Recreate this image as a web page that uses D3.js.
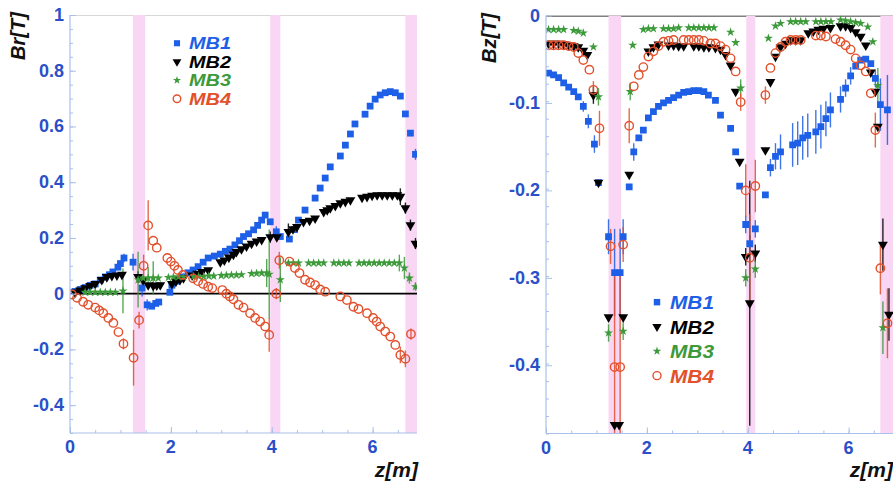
<!DOCTYPE html>
<html><head><meta charset="utf-8">
<script src="https://cdn.jsdelivr.net/npm/d3@7"></script>
<style>body{margin:0;background:#fff}svg{display:block}
.sf{font-family:"Liberation Sans",Arial,"DejaVu Sans",sans-serif;font-weight:bold}
.it{font-style:italic}</style>
</head><body><svg id="c" width="893" height="487"></svg>
<script>
// ---------- DATA: [z, value, error] ----------
const seriesNames = ["MB1","MB2","MB3","MB4"];
const xTicks = [0,2,4,6];
const brTicks = [1,0.8,0.6,0.4,0.2,0,-0.2,-0.4];
const bzTicks = [0,-0.1,-0.2,-0.3,-0.4];
const brBands = [[1.25,1.49],[3.97,4.17],[6.65,6.9]];
const bzBands = [[1.24,1.49],[3.97,4.15],[6.63,6.95]];

const brMB1 = [[0.10,0.008,0],[0.20,0.015,0],[0.30,0.022,0],[0.40,0.030,0],[0.50,0.035,0],[0.60,0.049,0],[0.70,0.060,0],[0.78,0.068,0],[0.85,0.078,0],[0.95,0.095,0],[1.00,0.108,0],[1.07,0.128,0.015],
[1.25,0.113,0.03],[1.43,0.020,0.03],[1.53,-0.040,0.02],[1.62,-0.045,0],[1.70,-0.035,0],[1.76,-0.030,0],
[1.98,0.005,0],[2.02,0.030,0],[2.12,0.045,0],[2.22,0.060,0],[2.34,0.075,0],[2.44,0.085,0],[2.54,0.097,0],[2.64,0.113,0],[2.74,0.128,0],[2.86,0.135,0],[2.98,0.142,0],[3.08,0.152,0],[3.17,0.160,0],[3.27,0.175,0],[3.36,0.190,0],[3.44,0.205,0],[3.54,0.215,0],[3.64,0.229,0],[3.72,0.245,0],[3.80,0.264,0],[3.87,0.282,0],[3.97,0.258,0],[4.09,0.222,0.02],[4.17,0.205,0],
[4.35,0.196,0],[4.45,0.230,0],[4.53,0.264,0],[4.66,0.300,0],[4.86,0.343,0],[4.96,0.379,0],[5.06,0.415,0],[5.16,0.455,0],[5.36,0.494,0],[5.46,0.533,0],[5.56,0.573,0],[5.65,0.609,0],[5.85,0.644,0],[5.95,0.673,0],[6.05,0.698,0],[6.15,0.713,0],[6.25,0.721,0],[6.35,0.725,0],[6.45,0.721,0],[6.55,0.709,0],[6.65,0.645,0],[6.75,0.576,0],[6.85,0.500,0.02]];

const brMB2 = [[0.10,0.005,0],[0.20,0.012,0],[0.30,0.020,0],[0.40,0.028,0],[0.50,0.035,0],[0.63,0.050,0],[0.73,0.060,0],[0.83,0.064,0],[0.93,0.066,0],[1.03,0.068,0],
[1.35,0.060,0.02],[1.45,0.049,0],[1.55,0.031,0],[1.65,0.028,0],[1.72,0.030,0],[1.79,0.031,0],
[2.02,0.035,0],[2.10,0.043,0],[2.18,0.050,0],[2.25,0.056,0],[2.42,0.066,0],[2.52,0.072,0],[2.62,0.078,0],[2.74,0.085,0],[2.98,0.113,0],[3.06,0.120,0],[3.15,0.130,0],[3.24,0.140,0],[3.30,0.150,0],[3.40,0.160,0],[3.50,0.170,0],[3.60,0.180,0],[3.70,0.188,0],[3.80,0.193,0],[3.97,0.203,0.02],[4.10,0.203,0],
[4.33,0.222,0.03],[4.42,0.232,0],[4.50,0.240,0],[4.63,0.258,0],[4.75,0.262,0],[4.86,0.270,0],[5.03,0.294,0],[5.10,0.300,0],[5.16,0.307,0],[5.26,0.315,0],[5.36,0.325,0],[5.46,0.330,0],[5.56,0.336,0],[5.79,0.345,0],[5.89,0.348,0],[5.99,0.352,0],[6.09,0.354,0],[6.19,0.354,0],[6.29,0.354,0],[6.39,0.354,0],[6.49,0.354,0],[6.55,0.348,0.03],[6.65,0.307,0.02],[6.75,0.246,0.02],[6.85,0.180,0.02]];

const brMB3 = [[0.30,0.005,0],[0.40,0.005,0],[0.50,0.005,0],[0.60,0.005,0],[0.70,0.005,0],[0.80,0.005,0],[0.90,0.005,0],[1.05,0.010,0.08],
[1.35,0.050,0.10],[1.45,0.056,0],[1.55,0.056,0.04],[1.65,0.056,0.06],[1.75,0.056,0],
[1.95,0.058,0],[2.05,0.060,0],[2.15,0.060,0],[2.25,0.060,0],[2.45,0.062,0],[2.55,0.062,0],[2.65,0.062,0],[2.75,0.063,0],[2.85,0.063,0],[3.00,0.065,0],[3.10,0.066,0],[3.20,0.067,0],[3.30,0.067,0],[3.40,0.068,0],[3.60,0.072,0],[3.70,0.073,0],[3.80,0.074,0],[3.90,0.074,0.05],
[3.95,0.070,0.16],[4.17,0.050,0.08],
[4.33,0.110,0],[4.43,0.110,0],[4.53,0.110,0],[4.73,0.110,0],[4.83,0.110,0],[4.93,0.110,0],[5.03,0.110,0],[5.23,0.110,0],[5.33,0.110,0],[5.43,0.110,0],[5.53,0.110,0],[5.73,0.110,0],[5.83,0.110,0],[5.93,0.110,0],[6.03,0.110,0],[6.13,0.110,0],[6.23,0.110,0],[6.33,0.110,0],[6.43,0.110,0],[6.53,0.110,0.03],[6.63,0.092,0.04],[6.73,0.056,0.02],[6.85,0.025,0.015]];

const brMB4 = [[0.04,-0.003,0],[0.14,-0.015,0],[0.26,-0.029,0],[0.36,-0.040,0],[0.50,-0.050,0],[0.58,-0.060,0],[0.66,-0.070,0],[0.76,-0.087,0],[0.86,-0.105,0],[0.96,-0.138,0],[1.06,-0.180,0.02],
[1.26,-0.230,0.10],[1.37,-0.095,0.03],[1.46,0.100,0.04],[1.55,0.245,0.09],[1.65,0.190,0],[1.72,0.165,0],
[1.93,0.128,0],[2.00,0.115,0],[2.07,0.100,0],[2.14,0.085,0],[2.24,0.067,0],[2.44,0.055,0],[2.54,0.045,0],[2.64,0.035,0],[2.74,0.025,0],[2.82,0.020,0],[3.02,0.013,0],[3.10,0.000,0],[3.17,-0.010,0],[3.24,-0.020,0],[3.34,-0.040,0],[3.44,-0.050,0],[3.57,-0.070,0],[3.67,-0.087,0],[3.77,-0.100,0],[3.87,-0.118,0],[3.95,-0.148,0.06],
[4.09,0.000,0.02],[4.15,0.120,0.03],[4.35,0.115,0],[4.46,0.092,0],[4.55,0.074,0],[4.66,0.050,0],[4.76,0.040,0],[4.86,0.031,0],[4.96,0.015,0],[5.06,0.007,0],[5.36,-0.010,0],[5.49,-0.023,0],[5.62,-0.047,0],[5.72,-0.055,0],[5.89,-0.070,0],[6.01,-0.087,0],[6.08,-0.100,0],[6.15,-0.118,0],[6.25,-0.136,0],[6.35,-0.154,0],[6.45,-0.184,0],[6.55,-0.220,0.03],[6.65,-0.234,0.03],[6.76,-0.145,0.02]];

const bzMB1 = [[0.05,-0.066,0],[0.15,-0.068,0],[0.25,-0.071,0],[0.35,-0.077,0],[0.45,-0.082,0],[0.55,-0.087,0],[0.64,-0.093,0],[0.74,-0.104,0.006],[0.84,-0.121,0.008],[0.96,-0.147,0.01],[1.04,-0.191,0],
[1.24,-0.253,0.02],[1.36,-0.294,0.05],[1.47,-0.294,0.05],[1.53,-0.253,0.02],
[1.65,-0.196,0],[1.74,-0.156,0.01],[1.84,-0.140,0],[1.93,-0.131,0],[2.03,-0.117,0],[2.13,-0.110,0],[2.23,-0.104,0],[2.33,-0.100,0],[2.43,-0.097,0],[2.53,-0.094,0],[2.63,-0.091,0],[2.73,-0.088,0],[2.83,-0.087,0],[2.93,-0.086,0],[3.03,-0.086,0],[3.13,-0.087,0],[3.22,-0.091,0],[3.36,-0.097,0],[3.46,-0.114,0],[3.66,-0.129,0],[3.76,-0.156,0],[3.84,-0.195,0],
[3.96,-0.239,0.01],[4.04,-0.261,0.01],[4.15,-0.244,0.01],
[4.35,-0.205,0],[4.45,-0.174,0.01],[4.55,-0.161,0.015],[4.65,-0.156,0.02],[4.89,-0.148,0.025],[4.99,-0.146,0.025],[5.09,-0.140,0.025],[5.19,-0.137,0.025],[5.35,-0.133,0.025],[5.45,-0.127,0.025],[5.55,-0.118,0.02],[5.64,-0.108,0.02],[5.84,-0.096,0.015],[5.94,-0.083,0.01],[6.04,-0.069,0.01],[6.14,-0.058,0],[6.24,-0.051,0],[6.34,-0.050,0],[6.44,-0.055,0],[6.53,-0.072,0.01],[6.63,-0.102,0.03],[6.77,-0.108,0.04]];

const bzMB2 = [[0.05,-0.032,0],[0.15,-0.032,0],[0.25,-0.032,0],[0.35,-0.033,0],[0.45,-0.034,0],[0.55,-0.035,0],[0.64,-0.036,0],[0.74,-0.040,0],[0.82,-0.045,0],[0.94,-0.091,0.01],[1.04,-0.191,0],
[1.24,-0.345,0],[1.36,-0.468,0],[1.45,-0.468,0],[1.53,-0.345,0],[1.65,-0.182,0],
[2.03,-0.041,0],[2.13,-0.036,0],[2.23,-0.033,0],[2.43,-0.034,0],[2.53,-0.034,0],[2.63,-0.035,0],[2.73,-0.035,0],[2.93,-0.035,0],[3.03,-0.035,0],[3.13,-0.036,0],[3.23,-0.036,0],[3.36,-0.037,0],[3.46,-0.039,0],[3.56,-0.045,0],[3.66,-0.057,0],[3.76,-0.087,0],[3.84,-0.167,0],
[3.96,-0.276,0.01],[4.04,-0.329,0.14],[4.15,-0.272,0.01],
[4.35,-0.154,0],[4.45,-0.076,0],[4.55,-0.047,0],[4.65,-0.036,0],[4.75,-0.032,0],[4.85,-0.028,0],[4.95,-0.028,0],[5.05,-0.028,0],[5.20,-0.020,0],[5.30,-0.018,0],[5.40,-0.016,0],[5.50,-0.015,0],[5.64,-0.014,0],[5.84,-0.012,0],[5.94,-0.012,0],[6.04,-0.014,0],[6.14,-0.019,0],[6.24,-0.024,0],[6.34,-0.034,0],[6.44,-0.065,0],[6.53,-0.087,0],[6.58,-0.127,0],[6.68,-0.262,0.03],[6.80,-0.342,0.03]];

const bzMB3 = [[0.05,-0.016,0],[0.15,-0.016,0],[0.25,-0.016,0],[0.35,-0.016,0],[0.55,-0.017,0],[0.64,-0.018,0],[0.74,-0.020,0],[0.94,-0.036,0],[1.04,-0.093,0.01],
[1.24,-0.363,0.01],[1.53,-0.361,0.01],
[1.67,-0.087,0.01],[1.72,-0.034,0],[1.93,-0.016,0],[2.03,-0.015,0],[2.13,-0.015,0],[2.33,-0.015,0],[2.43,-0.015,0],[2.53,-0.015,0],[2.63,-0.014,0],[2.83,-0.014,0],[2.93,-0.014,0],[3.03,-0.014,0],[3.13,-0.014,0],[3.23,-0.014,0],[3.33,-0.014,0],[3.66,-0.019,0],[3.76,-0.031,0],[3.86,-0.083,0.01],
[3.96,-0.300,0.01],[4.15,-0.290,0.01],
[4.41,-0.026,0],[4.55,-0.012,0],[4.65,-0.009,0],[4.85,-0.007,0],[4.95,-0.007,0],[5.05,-0.007,0],[5.15,-0.007,0],[5.35,-0.007,0],[5.45,-0.007,0],[5.55,-0.007,0],[5.65,-0.007,0],[5.84,-0.005,0],[5.94,-0.006,0],[6.04,-0.007,0],[6.14,-0.008,0],[6.24,-0.009,0],[6.38,-0.013,0],[6.48,-0.030,0],[6.58,-0.080,0.02],[6.68,-0.357,0.03]];

const bzMB4 = [[0.05,-0.034,0],[0.15,-0.034,0],[0.25,-0.034,0],[0.35,-0.034,0],[0.45,-0.035,0],[0.55,-0.036,0],[0.64,-0.043,0],[0.74,-0.051,0],[0.86,-0.062,0],[0.94,-0.085,0.01],[1.06,-0.129,0.02],
[1.28,-0.264,0.02],[1.36,-0.402,0.11],[1.47,-0.402,0.11],[1.53,-0.262,0.02],
[1.65,-0.126,0.02],[1.74,-0.081,0],[1.84,-0.068,0],[1.93,-0.059,0],[2.03,-0.047,0],[2.13,-0.041,0],[2.23,-0.035,0],[2.33,-0.030,0],[2.43,-0.029,0],[2.53,-0.028,0],[2.73,-0.028,0],[2.83,-0.028,0],[2.93,-0.028,0],[3.03,-0.028,0],[3.13,-0.029,0],[3.26,-0.032,0],[3.36,-0.032,0],[3.46,-0.035,0],[3.56,-0.039,0],[3.66,-0.049,0],[3.76,-0.064,0],[3.86,-0.099,0.01],
[3.96,-0.200,0.03],[4.04,-0.277,0.05],[4.15,-0.195,0.03],
[4.35,-0.091,0.01],[4.45,-0.060,0],[4.55,-0.043,0],[4.65,-0.036,0],[4.75,-0.030,0],[4.85,-0.028,0],[4.95,-0.028,0],[5.05,-0.028,0],[5.35,-0.023,0],[5.45,-0.023,0],[5.55,-0.024,0],[5.74,-0.027,0],[5.84,-0.030,0],[5.94,-0.034,0],[6.04,-0.039,0],[6.14,-0.049,0],[6.24,-0.057,0],[6.34,-0.064,0],[6.44,-0.089,0],[6.53,-0.131,0.02],[6.63,-0.289,0.03],[6.77,-0.352,0.04]];

// ---------- STYLE ----------
const colors = {MB1:"#1d5fe6", MB2:"#000000", MB3:"#3d9a3a", MB4:"#e2502c"};
const tickColor = "#2a4fc9";
const axisColor = "#a9c0ea";
const bandColor = "#f9d6f4";

const svg = d3.select("#c");

function drawMarker(g, name, x, y, scale) {
  const s = scale || 1;
  const c = colors[name];
  if (name === "MB1") {
    g.append("path").attr("d", d3.symbol(d3.symbolSquare, 46*s*s)()).attr("transform",`translate(${x},${y})`).attr("fill", c);
  } else if (name === "MB2") {
    g.append("path").attr("d", d3.symbol(d3.symbolTriangle, 42*s*s)()).attr("transform",`translate(${x},${y}) rotate(180)`).attr("fill", c);
  } else if (name === "MB3") {
    g.append("path").attr("d", d3.symbol(d3.symbolStar, 26*s*s)()).attr("transform",`translate(${x},${y})`).attr("fill", c);
  } else {
    g.append("circle").attr("cx", x).attr("cy", y).attr("r", 4.2*s).attr("fill","none").attr("stroke", c).attr("stroke-width", 1.4);
  }
}

function panel(cfg) {
  const x = d3.scaleLinear().domain([0, cfg.xMax]).range(cfg.xRange);
  const y = d3.scaleLinear().domain(cfg.yDomain).range(cfg.yRange);
  const g = svg.append("g");
  const id = "clip" + cfg.key;
  svg.append("clipPath").attr("id", id).append("rect")
    .attr("x", cfg.xRange[0]).attr("y", cfg.yRange[1])
    .attr("width", cfg.xRange[1]-cfg.xRange[0]).attr("height", cfg.yRange[0]-cfg.yRange[1]);
  const plot = g.append("g").attr("clip-path", `url(#${id})`);

  if (cfg.zeroUnder) {
    plot.append("line").attr("x1", cfg.xRange[0]).attr("x2", cfg.xRange[1])
      .attr("y1", y(0)+0.5).attr("y2", y(0)+0.5).attr("stroke", "#555").attr("stroke-width", 1.6);
  } else {
    plot.append("line").attr("x1", cfg.xRange[0]).attr("x2", cfg.xRange[1])
      .attr("y1", cfg.yRange[1]+0.5).attr("y2", cfg.yRange[1]+0.5).attr("stroke", "#d8d8d8").attr("stroke-width", 1);
  }
  plot.selectAll("rect.band").data(cfg.bands).join("rect")
    .attr("x", d => x(d[0])).attr("width", d => x(d[1]) - x(d[0]))
    .attr("y", cfg.yRange[1]).attr("height", cfg.yRange[0]-cfg.yRange[1])
    .attr("fill", bandColor);
  if (!cfg.zeroUnder) {
    plot.append("line").attr("x1", cfg.xRange[0]).attr("x2", cfg.xRange[1])
      .attr("y1", y(0)).attr("y2", y(0)).attr("stroke", "#000").attr("stroke-width", 1.8);
  }

  const yAxis = d3.axisRight(y).tickValues(d3.range(cfg.yDomain[0], cfg.yDomain[1]+1e-9, cfg.yMinor)).tickSize(3).tickFormat("");
  const ga = g.append("g").attr("transform", `translate(${cfg.xRange[0]},0)`).call(yAxis);
  const yAxisMaj = d3.axisRight(y).tickValues(cfg.yTicks).tickSize(6).tickFormat("");
  const gb = g.append("g").attr("transform", `translate(${cfg.xRange[0]},0)`).call(yAxisMaj);
  const xAxisMin = d3.axisTop(x).tickValues(d3.range(0, cfg.xMax, 0.5)).tickSize(3).tickFormat("");
  const gc = g.append("g").attr("transform", `translate(0,${cfg.yRange[0]})`).call(xAxisMin);
  const xAxisMaj = d3.axisTop(x).tickValues(xTicks).tickSize(6).tickFormat("");
  const gd = g.append("g").attr("transform", `translate(0,${cfg.yRange[0]})`).call(xAxisMaj);
  [ga,gb,gc,gd].forEach(a => {
    a.selectAll("path.domain").remove();
    a.selectAll("line").attr("stroke", axisColor).attr("stroke-width", 1);
  });
  g.append("line").attr("x1", cfg.xRange[0]).attr("x2", cfg.xRange[0]).attr("y1", cfg.yRange[1]).attr("y2", cfg.yRange[0]).attr("stroke", axisColor).attr("stroke-width", 1.2);
  g.append("line").attr("x1", cfg.xRange[0]).attr("x2", cfg.xRange[1]).attr("y1", cfg.yRange[0]).attr("y2", cfg.yRange[0]).attr("stroke", axisColor).attr("stroke-width", 1.2);

  g.selectAll("text.yl").data(cfg.yTicks).join("text").attr("class","sf")
    .attr("x", cfg.xRange[0]-6).attr("y", d => y(d)+6)
    .attr("text-anchor","end").attr("font-size", 18).attr("fill", tickColor).text(d => String(d));
  g.selectAll("text.xl").data(xTicks).join("text").attr("class","sf")
    .attr("x", d => x(d)).attr("y", cfg.yRange[0]+20)
    .attr("text-anchor","middle").attr("font-size", 18).attr("fill", tickColor).text(d => String(d));

  g.append("text").attr("class","sf it").attr("transform", `translate(${cfg.yTitleX},${cfg.yTitleY}) rotate(-90)`)
    .attr("text-anchor","middle").attr("font-size", 20).attr("fill","#111").text(cfg.yTitle);
  g.append("text").attr("class","sf it").attr("x", cfg.xTitleX).attr("y", 477).attr("text-anchor","end")
    .attr("font-size", 21).attr("fill","#111").text("z[m]");

  const dataG = plot.append("g");
  cfg.series.forEach((arr, i) => {
    const name = seriesNames[i];
    arr.filter(d => d[2] > 0).forEach(d => {
      dataG.append("line").attr("x1", x(d[0])).attr("x2", x(d[0]))
        .attr("y1", y(d[1]-d[2])).attr("y2", y(d[1]+d[2]))
        .attr("stroke", colors[name]).attr("stroke-width", 1.4).attr("opacity", 0.85);
    });
  });
  cfg.series.forEach((arr, i) => {
    const name = seriesNames[i];
    arr.forEach(d => drawMarker(dataG, name, x(d[0]), y(d[1])));
  });

  const lg = g.append("g");
  seriesNames.forEach((name, i) => {
    const ly = cfg.legend.y + i*cfg.legend.dy;
    drawMarker(lg, name, cfg.legend.x, ly - cfg.legend.fs*0.36, cfg.legend.ms);
    lg.append("text").attr("class","sf it").attr("x", cfg.legend.x + cfg.legend.tx).attr("y", ly)
      .attr("font-size", cfg.legend.fs).attr("fill", colors[name])
      .attr("textLength", cfg.legend.tl).attr("lengthAdjust","spacingAndGlyphs").text(name);
  });
}

panel({key:"L", xMax:6.88, xRange:[70,417], yDomain:[-0.5,1], yRange:[433,15],
  yTicks: brTicks, yMinor: 0.05, bands: brBands, zeroUnder:false,
  series:[brMB1, brMB2, brMB3, brMB4],
  yTitle:"Br[T]", yTitleX:25, yTitleY:36, xTitleX:418,
  legend:{x:177, y:49, dy:18.5, tx:12, fs:16, ms:0.9, tl:42}});

panel({key:"R", xMax:6.9, xRange:[546,894], yDomain:[-0.478,0], yRange:[433.5,15.5],
  yTicks: bzTicks, yMinor: 0.02, bands: bzBands, zeroUnder:true,
  series:[bzMB1, bzMB2, bzMB3, bzMB4],
  yTitle:"Bz[T]", yTitleX:496, yTitleY:38, xTitleX:893,
  legend:{x:657, y:309, dy:24.5, tx:13, fs:19, ms:0.95, tl:44}});
</script>
</body></html>
